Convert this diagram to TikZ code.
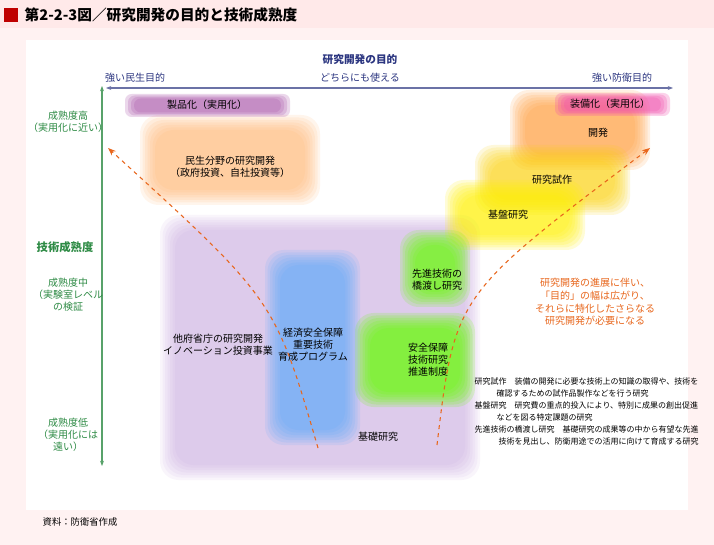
\documentclass[tikz,border=0pt]{standalone}
\usepackage{fontspec}
\setmainfont{Noto Sans CJK JP}
\usetikzlibrary{arrows.meta,calc}
\definecolor{navy}{HTML}{2B3580}
\definecolor{gr}{HTML}{2E8B45}
\definecolor{org}{HTML}{E8661C}
\tikzset{
 lbl/.style={font=\fontsize{7.5}{9}\selectfont, text=black, align=center},
 glbl/.style={font=\fontsize{7.5}{9}\selectfont, text=gr, align=center},
 dfn/.style={font=\fontsize{6}{7.5}\selectfont, anchor=west},
}
\newcommand\softbox[4]{\foreach \i in {0,...,6}{\fill[#1, fill opacity=#4, rounded corners=14pt] ($(#2)+(\i*2.5,\i*2.5)$) rectangle ($(#3)-(\i*2.5,\i*2.5)$);}}
\newcommand\softbar[4]{\foreach \i in {0,...,3}{\fill[#1, fill opacity=#4, rounded corners=5pt] ($(#2)+(\i*3,\i*1.5)$) rectangle ($(#3)-(\i*3,\i*1.5)$);}}
\begin{document}
\begin{tikzpicture}[x=0.75pt,y=-0.75pt]
\useasboundingbox (0,0) rectangle (714,545);
\fill[pink!20!white] (0,0) rectangle (714,545);
\fill[pink!35!white] (0,0) rectangle (714,28);
\fill[white] (26,40) rectangle (688,510);
\fill[red!75!black] (4,8) rectangle (18,22);
\node[anchor=west, font=\bfseries\fontsize{11}{12}\selectfont] (title) at (20,15) {第2-2-3図／研究開発の目的と技術成熟度};
\node[font=\fontsize{7}{9}\selectfont] (src) at (80,522) {資料：防衛省作成};
% blobs
\softbox{blue!30!violet!40}{160,215}{480,480}{0.09}
\softbox{blue!50!cyan!70}{265,250}{360,445}{0.12}
\softbox{orange!60}{140,115}{320,205}{0.12}
\softbox{orange!80}{510,90}{650,170}{0.14}
\softbox{yellow!70!orange}{475,145}{630,215}{0.14}
\softbox{yellow}{445,180}{585,250}{0.16}
\softbox{green!60!yellow}{400,230}{470,307}{0.16}
\softbox{green!60!yellow}{355,313}{475,407}{0.17}
\softbar{violet!70}{125,94}{290,117}{0.22}
\softbar{magenta!70}{555,93}{670,116}{0.25}
% texts in blobs
\node[lbl] (seihin) at (207,105) {製品化（実用化）};
\node[lbl] (minsei) at (230,167) {民生分野の研究開発\\（政府投資、自社投資等）};
\node[lbl] (tafu) at (218,345) {他府省庁の研究開発\\イノベーション投資事業};
\node[lbl] (keizai) at (313,345) {経済安全保障\\重要技術\\育成プログラム};
\node[lbl] (kiso) at (378,437) {基礎研究};
\node[lbl] (anzen) at (428,360) {安全保障\\技術研究\\推進制度};
\node[lbl] (senshin) at (437,280) {先進技術の\\橋渡し研究};
\node[lbl] (kiban) at (508,215) {基盤研究};
\node[lbl] (shisaku) at (552,180) {研究試作};
\node[lbl] (kaihatsu) at (598,133) {開発};
\node[lbl] (soubi) at (610,104) {装備化（実用化）};
% purpose axis
\node[font=\bfseries\fontsize{8}{10}\selectfont, text=navy] (mokuteki) at (360,59) {研究開発の目的};
\node[font=\fontsize{7.5}{9}\selectfont, text=navy] (minL) at (135,78) {強い民生目的};
\node[font=\fontsize{7.5}{9}\selectfont, text=navy] (both) at (360,78) {どちらにも使える};
\node[font=\fontsize{7.5}{9}\selectfont, text=navy] (defR) at (622,78) {強い防衛目的};
\coordinate (hL) at (106,88); \coordinate (hR) at (673,88);
\draw[navy!70, line width=1pt, {Stealth[length=4pt]}-{Stealth[length=4pt]}] (hL) -- (hR);
% maturity axis
\coordinate (vT) at (102,86); \coordinate (vB) at (102,466);
\draw[gr!80, line width=1pt, {Stealth[length=4pt]}-{Stealth[length=4pt]}] (vT) -- (vB);
\node[glbl] (high) at (68,122) {成熟度高\\（実用化に近い）};
\node[glbl, font=\bfseries\fontsize{8.5}{10}\selectfont] (gijutsu) at (65,247) {技術成熟度};
\node[glbl] (mid) at (68,295) {成熟度中\\（実験室レベル\\の検証};
\node[glbl] (low) at (68,435) {成熟度低\\（実用化には\\遠い）};
% dashed arrows
\coordinate (aLs) at (318,448); \coordinate (aLe) at (108,148);
\coordinate (aRs) at (437,445); \coordinate (aRe) at (650,148);
\draw[org, dashed, line width=0.8pt, -{Stealth[length=6pt]}] (aLs) .. controls (275,300) .. (aLe);
\draw[org, dashed, line width=0.8pt, -{Stealth[length=6pt]}] (aRs) .. controls (455,295) .. (aRe);
\node[font=\fontsize{7.5}{9.5}\selectfont, text=org, align=center] (note) at (595,302) {研究開発の進展に伴い、\\「目的」の幅は広がり、\\それらに特化したさらなる\\研究開発が必要になる};
% definitions
\node[dfn] (d1) at (470,381) {研究試作　装備の開発に必要な技術上の知識の取得や、技術を};
\node[dfn] (d1b) at (492,393) {確認するための試作品製作などを行う研究};
\node[dfn] (d2) at (470,405) {基盤研究　研究費の重点的投入により、特別に成果の創出促進};
\node[dfn] (d2b) at (492,417) {などを図る特定課題の研究};
\node[dfn] (d3) at (470,429) {先進技術の橋渡し研究　基礎研究の成果等の中から有望な先進};
\node[dfn] (d3b) at (494,441) {技術を見出し、防衛用途での活用に向けて育成する研究};
\end{tikzpicture}
\end{document}
